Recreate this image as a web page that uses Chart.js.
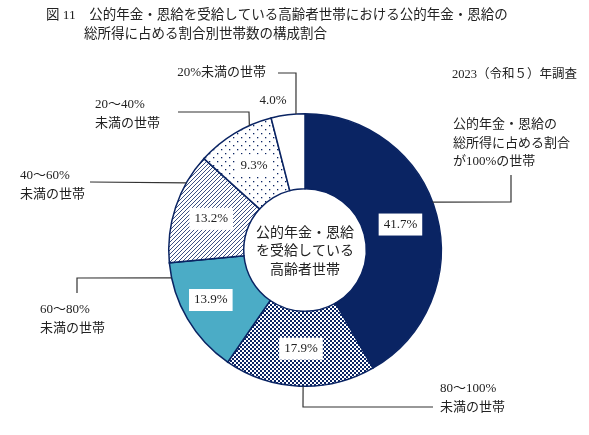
<!DOCTYPE html>
<html lang="ja">
<head>
<meta charset="utf-8">
<title>図11 公的年金・恩給の総所得に占める割合別世帯数の構成割合</title>
<script src="https://cdn.jsdelivr.net/npm/chart.js@4/dist/chart.umd.min.js"></script>
<style>
  html, body { margin: 0; padding: 0; background: #fff; }
  #wrap { width: 589px; height: 435px; }
</style>
</head>
<body>
<div id="wrap"><canvas id="myChart" width="589" height="435"></canvas></div>
<script>
// data
const categories = [
    "公的年金・恩給の総所得に占める割合が100%の世帯",
    "80～100%未満の世帯",
    "60～80%未満の世帯",
    "40～60%未満の世帯",
    "20～40%未満の世帯",
    "20%未満の世帯"
];
const shares = [41.7, 17.9, 13.9, 13.2, 9.3, 4.0];
const surveyNote = "2023（令和５）年調査";
const titleLines = [
    "図 11　公的年金・恩給を受給している高齢者世帯における公的年金・恩給の",
    "総所得に占める割合別世帯数の構成割合"
];
const centerLines = ["公的年金・恩給", "を受給している", "高齢者世帯"];

const NAVY = "#0a2463";
const FONT = "'Liberation Serif', 'Noto Sans CJK JP', serif";

function makePattern(size, draw) {
    let c = document.createElement("canvas");
    c.width = size;
    c.height = size;
    let g = c.getContext("2d");
    g.fillStyle = "#fff";
    g.fillRect(0, 0, size, size);
    draw(g);
    return document.getElementById("myChart").getContext("2d").createPattern(c, "repeat");
}

let checks = makePattern(4, g => {
    g.fillStyle = NAVY;
    g.fillRect(0, 0, 4, 4);
    g.fillStyle = "#fff";
    g.fillRect(0, 0, 2, 2);
    g.fillRect(2, 2, 2, 2);
});
let hatch = makePattern(4, g => {
    g.strokeStyle = NAVY;
    g.lineWidth = 0.8;
    g.beginPath();
    g.moveTo(-1, 5); g.lineTo(5, -1);
    g.moveTo(-1, 1); g.lineTo(1, -1);
    g.moveTo(3, 5); g.lineTo(5, 3);
    g.stroke();
});
let dots = makePattern(8, g => {
    g.fillStyle = NAVY;
    g.fillRect(1, 1, 1.3, 1.3);
    g.fillRect(5, 5, 1.3, 1.3);
});

const fills = [NAVY, checks, "#4bacc6", hatch, dots, "#ffffff"];

// label texts outside the ring
const callouts = [
    { lines: ["公的年金・恩給の", "総所得に占める割合", "が100%の世帯"], x: 453, y: 125, align: "left",
      angle: 69.4, path: [[511, 202], [511, 175]] },
    { lines: ["80～100%", "未満の世帯"], x: 440, y: 389, align: "left",
      angle: 180.8, path: [[303, 407], [433, 407]] },
    { lines: ["60～80%", "未満の世帯"], x: 40, y: 310, align: "left",
      angle: 258.2, path: [[77, 278], [77, 293]] },
    { lines: ["40～60%", "未満の世帯"], x: 20, y: 176, align: "left",
      angle: 299.5, path: [[90, 182]] },
    { lines: ["20～40%", "未満の世帯"], x: 95, y: 105, align: "left",
      angle: 335.9, path: [[249, 112], [178, 112]] },
    { lines: ["20%未満の世帯"], x: 266, y: 73, align: "right",
      angle: 356.2, path: [[296, 73], [278, 73]] }
];

const textPlugin = {
    id: "texts",
    afterDraw(chart) {
        let ctx = chart.ctx;
        let meta = chart.getDatasetMeta(0);
        let arc0 = meta.data[0];
        let cx = arc0.x, cy = arc0.y, R = arc0.outerRadius;
        ctx.save();
        ctx.textBaseline = "middle";
        ctx.fillStyle = "#222";

        // title
        ctx.font = "13.5px " + FONT;
        ctx.textAlign = "left";
        ctx.fillText(titleLines[0], 46, 15);
        ctx.fillText(titleLines[1], 84, 34);

        ctx.font = "12.5px " + FONT;
        ctx.textAlign = "right";
        ctx.fillText(surveyNote, 577, 75);

        // leaders and callouts
        ctx.strokeStyle = "#333";
        ctx.lineWidth = 1.2;
        callouts.forEach(c => {
            let a = c.angle * Math.PI / 180;
            ctx.beginPath();
            ctx.moveTo(cx + R * Math.sin(a), cy - R * Math.cos(a));
            c.path.forEach(p => ctx.lineTo(p[0], p[1]));
            ctx.stroke();
            ctx.font = "13px " + FONT;
            ctx.textAlign = c.align;
            c.lines.forEach((t, i) => ctx.fillText(t, c.x, c.y + i * 18.5));
        });

        // percentage labels
        ctx.font = "13px " + FONT;
        ctx.textAlign = "center";
        meta.data.forEach((arc, i) => {
            let txt = shares[i].toFixed(1) + "%";
            if (i === shares.length - 1) {
                ctx.fillStyle = "#222";
                ctx.fillText(txt, 273, 101);
                return;
            }
            let pos = arc.tooltipPosition();
            if (i === 2) pos = { x: pos.x - 9, y: pos.y };
            let w = ctx.measureText(txt).width + 10;
            ctx.fillStyle = "#fff";
            ctx.fillRect(pos.x - w / 2, pos.y - 11, w, 22);
            ctx.fillStyle = "#222";
            ctx.fillText(txt, pos.x, pos.y);
        });

        // center text
        ctx.font = "14px " + FONT;
        centerLines.forEach((t, i) => ctx.fillText(t, cx, cy - 17 + i * 18.5));
        ctx.restore();
    }
};

let config = {
    type: "doughnut",
    data: {
        labels: categories,
        datasets: [
            {
                data: shares,
                backgroundColor: fills,
                borderColor: NAVY,
                borderWidth: 1.5,
                borderJoinStyle: "miter"
            }
        ]
    },
    options: {
        responsive: false,
        animation: false,
        cutout: "45%",
        layout: {
            padding: { left: 167, right: 146, top: 113, bottom: 48 }
        },
        plugins: {
            legend: { display: false },
            tooltip: { enabled: false }
        }
    },
    plugins: [textPlugin]
};

let ctx = document.getElementById("myChart").getContext("2d");
let myChart = new Chart(ctx, config);
</script>
</body>
</html>
